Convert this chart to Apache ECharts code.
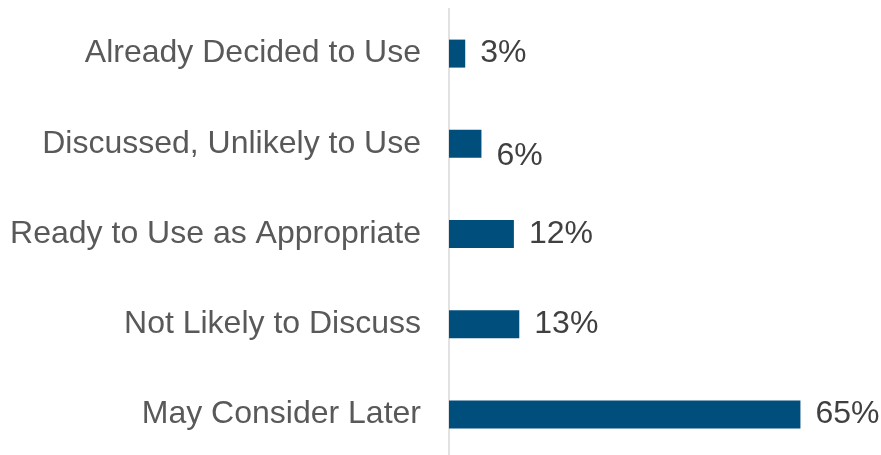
<!DOCTYPE html>
<html>
<head>
<meta charset="utf-8">
<script src="https://cdn.jsdelivr.net/npm/echarts@6/dist/echarts.min.js"></script>
<style>html,body{margin:0;padding:0;background:#fff;overflow:hidden;}#c{width:881px;height:462px;}</style>
</head>
<body>
<div id="c"></div>
<script>
const categories = ["Already Decided to Use", "Discussed, Unlikely to Use", "Ready to Use as Appropriate", "Not Likely to Discuss", "May Consider Later"];
const values = [3, 6, 12, 13, 65];

const chart = echarts.init(document.getElementById('c'), null, {renderer: 'canvas'});
const FONT = '"Liberation Sans", Arial, sans-serif';
chart.setOption({
  animation: false,
  backgroundColor: '#ffffff',
  grid: {left: 449, top: 8.5, width: 405.5, height: 451, containLabel: false},
  xAxis: {
    type: 'value', min: 0, max: 75, show: false
  },
  yAxis: {
    type: 'category', data: categories, inverse: true,
    axisLine: {show: true, lineStyle: {color: '#D9D9D9', width: 1.5}},
    axisTick: {show: false},
    axisLabel: {color: '#595959', fontSize: 32, fontFamily: FONT, margin: 28}
  },
  series: [{
    type: 'bar',
    barWidth: 28,
    itemStyle: {color: '#004E7C'},
    label: {show: true, position: 'right', distance: 15, color: '#404040', fontSize: 32, fontFamily: FONT,
      formatter: p => p.value + '%'},
    data: values.map((v, i) => i === 1 ? {value: v, label: {offset: [0, 12]}} : v)
  }]
});
</script>
</body>
</html>
